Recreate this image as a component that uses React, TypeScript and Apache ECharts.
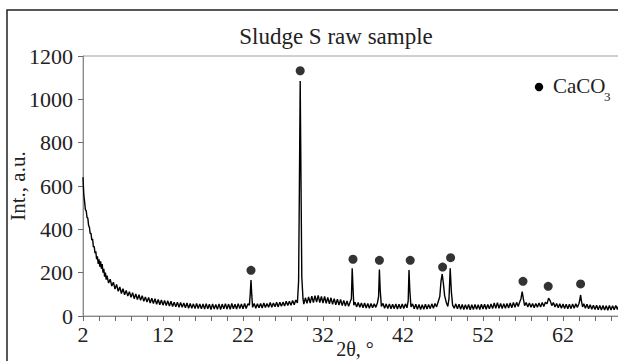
import React, { useEffect, useRef } from "react";
import * as echarts from "echarts";

const chartTitle = "Sludge S raw sample";
const yAxisName = "Int., a.u.";
const xAxisName = "2θ, °";
const legendName = "CaCO";
const legendSub = "3";

const xLabelTicks = [2, 12, 22, 32, 42, 52, 62];
const xMinorTicks = [2, 4, 6, 8, 10, 12, 14, 16, 18, 20, 22, 24, 26, 28, 30, 32, 34, 36, 38, 40, 42, 44, 46, 48, 50, 52, 54, 56, 58, 60, 62, 64, 66, 68];
const yTicks = [0, 200, 400, 600, 800, 1000, 1200];

// XRD pattern: [2θ, intensity]
const pattern: [number, number][] = [
  [2.0, 640], [2.1, 560], [2.2, 528], [2.3, 490], [2.4, 486], [2.5, 455], [2.6, 452], [2.7, 418], [2.8, 410], [2.9, 380],
  [3.0, 382], [3.1, 350], [3.2, 356], [3.3, 318], [3.4, 322], [3.5, 290], [3.6, 298], [3.7, 262], [3.8, 276], [3.9, 240],
  [4.0, 262], [4.1, 228], [4.2, 252], [4.3, 218], [4.4, 240], [4.5, 200], [4.6, 218], [4.7, 182], [4.8, 200], [4.9, 168],
  [5.0, 186], [5.2, 152], [5.4, 170], [5.6, 138], [5.8, 156], [6.0, 124], [6.2, 146], [6.4, 114], [6.6, 134], [6.8, 104],
  [7.0, 126], [7.2, 98], [7.4, 118], [7.6, 92], [7.8, 112], [8.0, 86], [8.2, 108], [8.4, 80], [8.6, 102], [8.8, 76],
  [9.0, 98], [9.2, 72], [9.4, 94], [9.6, 68], [9.8, 88], [10.0, 64], [10.2, 86], [10.4, 60], [10.6, 82], [10.8, 58],
  [11.0, 80], [11.2, 54], [11.4, 76], [11.6, 52], [11.8, 74], [12.0, 50], [12.2, 72], [12.4, 48], [12.6, 70], [12.8, 46],
  [13.0, 68], [13.2, 44], [13.4, 64], [13.6, 42], [13.8, 64], [14.0, 40], [14.2, 62], [14.4, 40], [14.6, 60], [14.8, 38],
  [15.0, 60], [15.2, 36], [15.4, 58], [15.6, 36], [15.8, 56], [16.0, 34], [16.2, 58], [16.4, 35], [16.6, 55], [16.8, 33],
  [17.0, 56], [17.2, 32], [17.4, 57], [17.6, 33], [17.8, 54], [18.0, 30], [18.2, 56], [18.4, 32], [18.6, 53], [18.8, 31],
  [19.0, 56], [19.2, 30], [19.4, 55], [19.6, 33], [19.8, 57], [20.0, 32], [20.2, 55], [20.4, 31], [20.6, 58], [20.8, 33],
  [21.0, 54], [21.2, 32], [21.4, 57], [21.6, 34], [21.8, 56], [22.0, 33], [22.2, 58], [22.4, 35], [22.6, 56], [22.8, 50],
  [22.9, 100], [23.0, 166], [23.1, 95], [23.2, 40], [23.4, 58], [23.6, 36], [23.8, 56], [24.0, 38], [24.2, 58], [24.4, 37],
  [24.6, 60], [24.8, 39], [25.0, 58], [25.2, 40], [25.4, 62], [25.6, 40], [25.8, 60], [26.0, 43], [26.2, 63], [26.4, 42],
  [26.6, 64], [26.8, 45], [27.0, 64], [27.2, 46], [27.4, 68], [27.6, 48], [27.8, 68], [28.0, 50], [28.2, 72], [28.4, 52],
  [28.6, 74], [28.8, 60], [28.95, 160], [29.05, 600], [29.15, 1085], [29.25, 620], [29.35, 180], [29.5, 80], [29.6, 55], [29.8, 84],
  [30.0, 58], [30.2, 88], [30.4, 60], [30.6, 92], [30.8, 62], [31.0, 94], [31.2, 64], [31.4, 95], [31.6, 62], [31.8, 90],
  [32.0, 60], [32.2, 90], [32.4, 58], [32.6, 86], [32.8, 56], [33.0, 84], [33.2, 54], [33.4, 80], [33.6, 52], [33.8, 78],
  [34.0, 50], [34.2, 76], [34.4, 48], [34.6, 72], [34.8, 46], [35.0, 70], [35.2, 45], [35.4, 66], [35.55, 80], [35.65, 220],
  [35.75, 130], [35.85, 50], [36.0, 64], [36.2, 42], [36.4, 62], [36.6, 40], [36.8, 60], [37.0, 38], [37.2, 60], [37.4, 37],
  [37.6, 58], [37.8, 36], [38.0, 58], [38.2, 38], [38.4, 56], [38.6, 40], [38.8, 60], [38.95, 90], [39.05, 215], [39.15, 120],
  [39.3, 44], [39.5, 58], [39.7, 36], [39.9, 56], [40.1, 34], [40.3, 56], [40.5, 33], [40.7, 54], [40.9, 34], [41.1, 55],
  [41.3, 32], [41.5, 54], [41.7, 34], [41.9, 55], [42.1, 35], [42.3, 56], [42.5, 38], [42.65, 70], [42.75, 212], [42.85, 120],
  [43.0, 42], [43.2, 56], [43.4, 33], [43.6, 54], [43.8, 31], [44.0, 53], [44.2, 30], [44.4, 52], [44.6, 31], [44.8, 54],
  [45.0, 32], [45.2, 53], [45.4, 34], [45.6, 56], [45.8, 36], [46.0, 58], [46.2, 42], [46.4, 66], [46.6, 90], [46.75, 160],
  [46.9, 194], [47.05, 150], [47.2, 95], [47.4, 64], [47.6, 44], [47.75, 80], [47.9, 220], [48.05, 110], [48.2, 50], [48.4, 36],
  [48.6, 56], [48.8, 33], [49.0, 54], [49.2, 31], [49.4, 53], [49.6, 30], [49.8, 52], [50.0, 31], [50.2, 53], [50.4, 29],
  [50.6, 52], [50.8, 30], [51.0, 53], [51.2, 31], [51.4, 52], [51.6, 30], [51.8, 54], [52.0, 32], [52.2, 54], [52.4, 31],
  [52.6, 53], [52.8, 33], [53.0, 56], [53.2, 34], [53.4, 60], [53.6, 35], [53.8, 62], [54.0, 36], [54.2, 58], [54.4, 35],
  [54.6, 57], [54.8, 36], [55.0, 58], [55.2, 37], [55.4, 60], [55.6, 38], [55.8, 62], [56.0, 40], [56.2, 63], [56.4, 44],
  [56.6, 66], [56.75, 80], [56.9, 112], [57.05, 78], [57.2, 48], [57.4, 62], [57.6, 42], [57.8, 60], [58.0, 40], [58.2, 58],
  [58.4, 38], [58.6, 58], [58.8, 40], [59.0, 60], [59.2, 42], [59.4, 62], [59.6, 44], [59.8, 64], [60.0, 56], [60.2, 82],
  [60.4, 70], [60.6, 48], [60.8, 62], [61.0, 42], [61.2, 58], [61.4, 38], [61.6, 56], [61.8, 36], [62.0, 55], [62.2, 35],
  [62.4, 54], [62.6, 34], [62.8, 54], [63.0, 34], [63.2, 55], [63.4, 36], [63.6, 56], [63.8, 40], [64.0, 58], [64.1, 75],
  [64.2, 97], [64.3, 70], [64.45, 42], [64.6, 56], [64.8, 36], [65.0, 54], [65.2, 33], [65.4, 52], [65.6, 31], [65.8, 50],
  [66.0, 30], [66.2, 50], [66.4, 29], [66.6, 49], [66.8, 28], [67.0, 48], [67.2, 28], [67.4, 47], [67.6, 27], [67.8, 48],
  [68.0, 28], [68.2, 47], [68.4, 29], [68.6, 48], [68.8, 30], [69.0, 50], [69.2, 31], [69.4, 50], [69.6, 32], [69.8, 52],
  [70.0, 40],
];

// CaCO3 peak markers: [2θ, intensity]
const calciteMarks: [number, number][] = [
  [23.0, 211], [29.15, 1132], [35.75, 262], [39.05, 257], [42.9, 257],
  [46.95, 226], [47.95, 269], [57.0, 160], [60.15, 137], [64.2, 148],
];

const FONT = "Liberation Serif";

export default function App() {
  const ref = useRef<HTMLDivElement>(null);
  useEffect(() => {
    if (!ref.current) return;
    const chart = echarts.init(ref.current, undefined, { renderer: "svg" });
    chart.setOption({
      animation: false,
      backgroundColor: "#ffffff",
      textStyle: { fontFamily: FONT },
      grid: {
        left: 83,
        top: 56,
        width: 544,
        height: 260,
        show: true,
        borderColor: "#a0a0a0",
        borderWidth: 1,
        containLabel: false,
        outerBoundsMode: "none",
      },
      xAxis: {
        type: "value",
        min: 2,
        max: 70,
        name: xAxisName,
        nameLocation: "middle",
        nameGap: 23,
        nameMoveOverlap: false,
        nameTextStyle: { fontFamily: FONT, fontSize: 20, color: "#222", verticalAlign: "top" },
        axisLine: { show: true, lineStyle: { color: "#8a8a8a", width: 1 } },
        axisTick: {
          show: true,
          inside: false,
          length: 5,
          customValues: xMinorTicks,
          lineStyle: { color: "#6a6a6a", width: 1 },
        },
        axisLabel: {
          customValues: xLabelTicks,
          fontFamily: FONT,
          fontSize: 22,
          color: "#222",
          margin: 7,
        },
        splitLine: { show: false },
      },
      yAxis: {
        type: "value",
        min: 0,
        max: 1200,
        interval: 200,
        name: yAxisName,
        nameLocation: "middle",
        nameGap: 55,
        nameMoveOverlap: false,
        nameTextStyle: { fontFamily: FONT, fontSize: 21, color: "#222" },
        axisLine: { show: true, lineStyle: { color: "#8a8a8a", width: 1 } },
        axisTick: { show: true, inside: false, length: 5, lineStyle: { color: "#6a6a6a" } },
        axisLabel: {
          customValues: yTicks,
          formatter: (v: number) => String(v),
          fontFamily: FONT,
          fontSize: 22,
          color: "#222",
          margin: 10,
        },
        splitLine: { show: false },
      },
      series: [
        {
          type: "line",
          data: pattern,
          showSymbol: false,
          symbol: "none",
          lineStyle: { color: "#000", width: 1.4 },
          z: 2,
        },
        {
          type: "scatter",
          name: "CaCO3",
          data: calciteMarks,
          symbol: "circle",
          symbolSize: 9,
          itemStyle: { color: "#000" },
          z: 3,
        },
      ],
      graphic: [
        {
          type: "rect",
          z: 100,
          silent: true,
          shape: { x: 7, y: 10, width: 700, height: 400 },
          style: { fill: "none", stroke: "#222", lineWidth: 1.5 },
        },
        {
          type: "text",
          z: 100,
          x: 336,
          y: 36,
          style: {
            text: chartTitle,
            font: `23px "${FONT}"`,
            fill: "#222",
            align: "center",
            verticalAlign: "middle",
          },
        },
        {
          type: "circle",
          z: 100,
          shape: { cx: 539, cy: 87, r: 4.2 },
          style: { fill: "#000" },
        },
        {
          type: "text",
          z: 100,
          x: 553,
          y: 86,
          style: {
            text: legendName,
            font: `21px "${FONT}"`,
            fill: "#222",
            align: "left",
            verticalAlign: "middle",
          },
        },
        {
          type: "text",
          z: 100,
          x: 604,
          y: 96,
          style: {
            text: legendSub,
            font: `13px "${FONT}"`,
            fill: "#222",
            align: "left",
            verticalAlign: "middle",
          },
        },
      ],
    });
    return () => chart.dispose();
  }, []);
  return (
    <div
      ref={ref}
      style={{ position: "fixed", left: 0, top: 0, width: 618, height: 361 }}
    />
  );
}
